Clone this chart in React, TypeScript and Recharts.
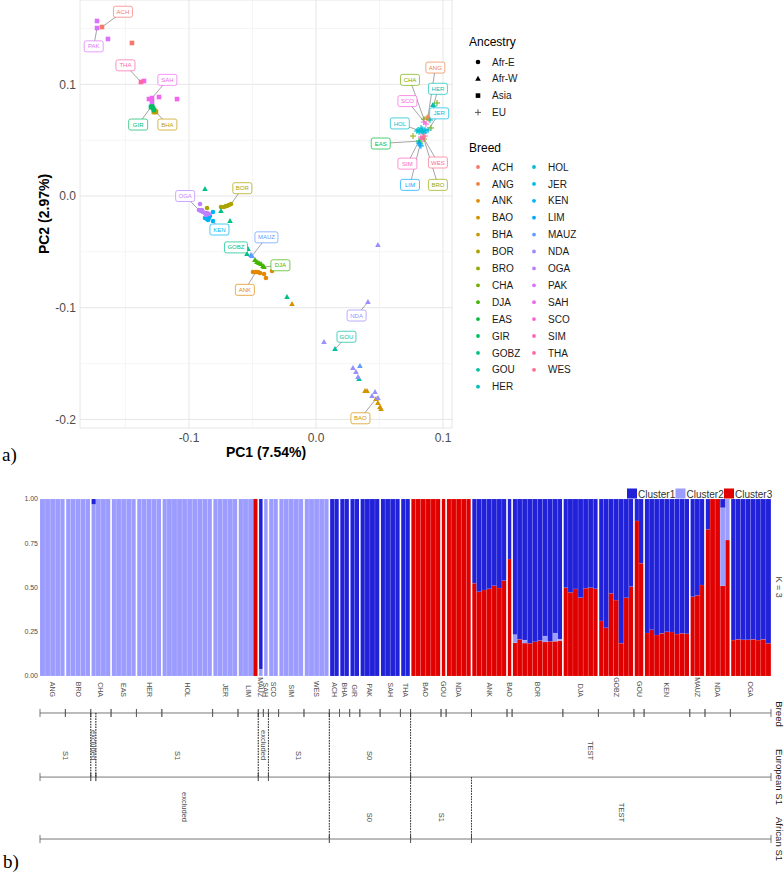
import React from 'react';
import {
  ScatterChart,
  Scatter,
  XAxis,
  YAxis,
  CartesianGrid,
  ReferenceLine,
  BarChart,
  Bar,
  ReferenceArea,
} from 'recharts';

const FONT = '"Liberation Sans", Arial, Helvetica, sans-serif';
const SERIF = '"Liberation Serif", "Times New Roman", serif';

// ---------- a) PCA ----------
const breeds = [
  'ACH', 'ANG', 'ANK', 'BAO', 'BHA', 'BOR', 'BRO', 'CHA', 'DJA', 'EAS', 'GIR', 'GOBZ', 'GOU', 'HER',
  'HOL', 'JER', 'KEN', 'LIM', 'MAUZ', 'NDA', 'OGA', 'PAK', 'SAH', 'SCO', 'SIM', 'THA', 'WES',
];
const ancestries = ['Afr-E', 'Afr-W', 'Asia', 'EU'];
const afrEBreeds = ['ANK', 'BOR', 'KEN', 'OGA'];
const afrWBreeds = ['BAO', 'DJA', 'GOBZ', 'GOU', 'MAUZ', 'NDA'];
const asiaBreeds = ['ACH', 'BHA', 'GIR', 'PAK', 'SAH', 'THA'];

// [breed, PC1, PC2]
const asiaPoints: [string, number, number][] = [
  ['PAK', -0.1724, 0.1567], ['PAK', -0.1724, 0.1504], ['PAK', -0.1638, 0.1406], ['PAK', -0.1291, 0.0842],
  ['ACH', -0.1685, 0.1513], ['ACH', -0.1449, 0.137],
  ['THA', -0.1378, 0.1021],
  ['SAH', -0.1354, 0.103], ['SAH', -0.1315, 0.0868], ['SAH', -0.1291, 0.0877], ['SAH', -0.1236, 0.0886], ['SAH', -0.1094, 0.0868],
  ['GIR', -0.1291, 0.0806], ['GIR', -0.1283, 0.0788], ['GIR', -0.1276, 0.077], ['GIR', -0.1299, 0.0797],
  ['BHA', -0.1268, 0.0761], ['BHA', -0.126, 0.0752], ['BHA', -0.1276, 0.0752],
];
const afrEPoints: [string, number, number][] = [
  ['OGA', -0.0913, -0.0072], ['OGA', -0.0921, -0.0125], ['OGA', -0.0906, -0.0134], ['OGA', -0.089, -0.0143],
  ['OGA', -0.0874, -0.0152], ['OGA', -0.0858, -0.0152], ['OGA', -0.0843, -0.0161], ['OGA', -0.0866, -0.017], ['OGA', -0.0898, -0.0125],
  ['KEN', -0.0866, -0.0188], ['KEN', -0.0858, -0.0206], ['KEN', -0.0843, -0.0197], ['KEN', -0.085, -0.0215],
  ['KEN', -0.0835, -0.0179], ['KEN', -0.0811, -0.0143], ['KEN', -0.0811, -0.0224], ['KEN', -0.0874, -0.0197],
  ['BOR', -0.0858, -0.0107], ['BOR', -0.0748, -0.0098], ['BOR', -0.0724, -0.0098], ['BOR', -0.0709, -0.009],
  ['BOR', -0.0701, -0.009], ['BOR', -0.0685, -0.0081], ['BOR', -0.0669, -0.0072],
  ['ANK', -0.0496, -0.068], ['ANK', -0.0472, -0.068], ['ANK', -0.0457, -0.068], ['ANK', -0.0441, -0.0689],
  ['ANK', -0.0409, -0.0698], ['ANK', -0.0394, -0.0734], ['ANK', -0.0346, -0.0671],
];
const afrWPoints: [string, number, number][] = [
  ['GOBZ', -0.0874, 0.0063], ['GOBZ', -0.0748, -0.0134], ['GOBZ', -0.0677, -0.0224], ['GOBZ', -0.0535, -0.0474],
  ['GOBZ', -0.0543, -0.0519], ['GOBZ', -0.0228, -0.0904],
  ['MAUZ', -0.0512, -0.0528], ['MAUZ', -0.0504, -0.0537], ['MAUZ', 0.0346, -0.1522],
  ['DJA', -0.048, -0.0573], ['DJA', -0.0465, -0.0591], ['DJA', -0.0449, -0.06], ['DJA', -0.0433, -0.0609],
  ['DJA', -0.0417, -0.0627], ['DJA', -0.0409, -0.0636],
  ['BAO', -0.0189, -0.0967], ['BAO', 0.0386, -0.1746], ['BAO', 0.0402, -0.1746], ['BAO', 0.0472, -0.1817],
  ['BAO', 0.0488, -0.1853], ['BAO', 0.0504, -0.1889], ['BAO', 0.0512, -0.1907],
  ['NDA', 0.0488, -0.0439], ['NDA', 0.0409, -0.0949], ['NDA', 0.0063, -0.1307], ['NDA', 0.0291, -0.154],
  ['NDA', 0.0315, -0.1576], ['NDA', 0.0331, -0.162], ['NDA', 0.0465, -0.1755], ['NDA', 0.0441, -0.1791], ['NDA', 0.0488, -0.1808],
  ['GOU', 0.015, -0.137], ['GOU', 0.0339, -0.1638], ['GOU', 0.0921, 0.0815],
];
const euPoints: [string, number, number][] = [
  ['ANG', 0.0882, 0.0707], ['ANG', 0.089, 0.0689], ['ANG', 0.0874, 0.0698],
  ['CHA', 0.0906, 0.0609], ['CHA', 0.0953, 0.0833], ['CHA', 0.085, 0.0689],
  ['HER', 0.0929, 0.0806], ['HER', 0.0835, 0.0582], ['HER', 0.0898, 0.068],
  ['SCO', 0.0866, 0.0645], ['SCO', 0.085, 0.0662],
  ['HOL', 0.0803, 0.0591], ['HOL', 0.0819, 0.0582], ['HOL', 0.0835, 0.06], ['HOL', 0.0811, 0.0573],
  ['HOL', 0.0827, 0.0609], ['HOL', 0.0843, 0.0573], ['HOL', 0.0858, 0.0591], ['HOL', 0.0795, 0.0582],
  ['JER', 0.085, 0.0564], ['JER', 0.0866, 0.0582], ['JER', 0.0882, 0.0591],
  ['EAS', 0.0811, 0.0492], ['EAS', 0.0819, 0.0474],
  ['SIM', 0.0827, 0.0528], ['SIM', 0.0835, 0.051],
  ['WES', 0.0843, 0.0528], ['WES', 0.0858, 0.0537],
  ['LIM', 0.0819, 0.0457], ['LIM', 0.0827, 0.0448], ['LIM', 0.0811, 0.0474],
  ['BRO', 0.0764, 0.0537], ['BRO', 0.085, 0.051],
];

// repelled labels: [breed, label PC1, label PC2, point PC1, point PC2]
const pcaLabels: [string, number, number, number, number][] = [
  ['ACH', -0.152, 0.165, -0.1685, 0.1513],
  ['PAK', -0.175, 0.134, -0.1724, 0.1504],
  ['THA', -0.15, 0.117, -0.1378, 0.1021],
  ['SAH', -0.117, 0.104, -0.1291, 0.0877],
  ['GIR', -0.14, 0.064, -0.1299, 0.0797],
  ['BHA', -0.117, 0.064, -0.126, 0.0752],
  ['OGA', -0.103, 0.0, -0.0921, -0.0125],
  ['BOR', -0.058, 0.007, -0.0669, -0.0072],
  ['KEN', -0.076, -0.03, -0.0811, -0.0224],
  ['GOBZ', -0.063, -0.046, -0.0535, -0.0474],
  ['MAUZ', -0.039, -0.037, -0.0504, -0.0537],
  ['DJA', -0.028, -0.062, -0.0409, -0.0636],
  ['ANK', -0.056, -0.084, -0.0472, -0.068],
  ['NDA', 0.032, -0.107, 0.0409, -0.0949],
  ['GOU', 0.024, -0.126, 0.015, -0.137],
  ['BAO', 0.035, -0.199, 0.0472, -0.1817],
  ['ANG', 0.094, 0.115, 0.0882, 0.0707],
  ['CHA', 0.074, 0.104, 0.085, 0.0689],
  ['HER', 0.096, 0.096, 0.0898, 0.068],
  ['SCO', 0.072, 0.085, 0.0866, 0.0645],
  ['JER', 0.097, 0.074, 0.0882, 0.0591],
  ['HOL', 0.066, 0.065, 0.0819, 0.0582],
  ['EAS', 0.051, 0.047, 0.0811, 0.0492],
  ['SIM', 0.072, 0.029, 0.0827, 0.0528],
  ['WES', 0.096, 0.03, 0.0843, 0.0528],
  ['LIM', 0.074, 0.01, 0.0819, 0.0457],
  ['BRO', 0.096, 0.01, 0.085, 0.051],
];

const pc1Ticks = [-0.1, 0, 0.1];
const pc2Ticks = [-0.2, -0.1, 0, 0.1];
const pc1Minor = [-0.15, -0.05, 0.05];
const pc2Minor = [-0.15, -0.05, 0.05, 0.15];

// ---------- b) ADMIXTURE K=3 ----------
const structGroups = [
  'ANG', 'BRO', 'CHA', 'EAS', 'HER', 'HOL', 'JER', 'LIM', 'MAUZ', 'SAH', 'SCO', 'SIM', 'WES',
  'ACH', 'BHA', 'GIR', 'PAK', 'SAH', 'THA',
  'BAO', 'GOU', 'NDA', 'ANK', 'BAO', 'BOR', 'DJA', 'GOBZ', 'GOU', 'KEN', 'MAUZ', 'NDA', 'OGA',
];
const structSizes = [5, 5, 4, 5, 5, 10, 5, 4, 1, 1, 2, 5, 5, 2, 2, 2, 4, 4, 2, 6, 1, 5, 7, 1, 10, 7, 7, 2, 9, 3, 5, 8];

const cluster1 = [
  0, 0, 0, 0, 0, 0, 0, 0, 0, 0, 0.03, 0, 0, 0, 0, 0, 0, 0, 0, 0, 0, 0, 0, 0,
  0, 0, 0, 0, 0, 0, 0, 0, 0, 0, 0, 0, 0, 0, 0, 0, 0, 0, 0, 0.96, 0, 0, 0, 0, 0, 0, 0, 0, 0, 0, 0, 0, 0,
  1, 1, 1, 1, 1, 1, 1, 1, 1, 1, 1, 1, 1, 1, 1, 1,
  0, 0, 0, 0, 0, 0, 0, 0, 0, 0, 0, 0,
  0.476, 0.524, 0.514, 0.507, 0.49, 0.503, 0.461,
  0.339,
  0.765, 0.793, 0.797, 0.815, 0.806, 0.8, 0.774, 0.804, 0.757, 0.791,
  0.501, 0.527, 0.508, 0.557, 0.504, 0.501, 0.507,
  0.689, 0.727, 0.533, 0.571, 0.815, 0.558, 0.495,
  0.124, 0.363,
  0.757, 0.738, 0.768, 0.759, 0.75, 0.751, 0.763, 0.759, 0.761,
  0.552, 0.544, 0.486,
  0.171, 0, 0, 0.049, 0,
  0.797, 0.793, 0.795, 0.795, 0.793, 0.797, 0.793, 0.815,
];
const cluster2 = [
  1, 1, 1, 1, 1, 1, 1, 1, 1, 1, 0.97, 1, 1, 1, 1, 1, 1, 1, 1, 1, 1, 1, 1, 1,
  1, 1, 1, 1, 1, 1, 1, 1, 1, 1, 1, 1, 1, 1, 1, 1, 1, 1, 0, 0.04, 1, 1, 1, 1, 1, 1, 1, 1, 1, 1, 1, 1, 1,
  0, 0, 0, 0, 0, 0, 0, 0, 0, 0, 0, 0, 0, 0, 0, 0,
  0, 0, 0, 0, 0, 0, 0, 0, 0, 0, 0, 0,
  0, 0, 0, 0, 0, 0, 0,
  0,
  0.047, 0, 0.017, 0, 0, 0, 0.034, 0, 0.047, 0.009,
  0, 0, 0, 0, 0, 0, 0,
  0, 0, 0, 0, 0, 0, 0,
  0, 0,
  0, 0, 0, 0, 0, 0, 0, 0, 0,
  0, 0, 0,
  0, 0, 0, 0.441, 0.232,
  0, 0, 0, 0, 0, 0, 0, 0,
];
const cluster3 = [
  0, 0, 0, 0, 0, 0, 0, 0, 0, 0, 0, 0, 0, 0, 0, 0, 0, 0, 0, 0, 0, 0, 0, 0,
  0, 0, 0, 0, 0, 0, 0, 0, 0, 0, 0, 0, 0, 0, 0, 0, 0, 0, 1, 0, 0, 0, 0, 0, 0, 0, 0, 0, 0, 0, 0, 0, 0,
  0, 0, 0, 0, 0, 0, 0, 0, 0, 0, 0, 0, 0, 0, 0, 0,
  1, 1, 1, 1, 1, 1, 1, 1, 1, 1, 1, 1,
  0.524, 0.476, 0.486, 0.493, 0.51, 0.497, 0.539,
  0.661,
  0.188, 0.207, 0.186, 0.185, 0.194, 0.2, 0.192, 0.196, 0.196, 0.2,
  0.499, 0.473, 0.492, 0.443, 0.496, 0.499, 0.493,
  0.311, 0.273, 0.467, 0.429, 0.185, 0.442, 0.505,
  0.876, 0.637,
  0.243, 0.262, 0.232, 0.241, 0.25, 0.249, 0.237, 0.241, 0.239,
  0.448, 0.456, 0.514,
  0.829, 1, 1, 0.51, 0.768,
  0.203, 0.207, 0.205, 0.205, 0.207, 0.203, 0.207, 0.185,
];
const clusterNames = ['Cluster1', 'Cluster2', 'Cluster3'];
const clusterColors = ['#2121D9', '#9C9CFF', '#E00000'];
const structTicks = [0, 0.25, 0.5, 0.75, 1];

const euroS1Labels = ['S1', 'excluded', 'S1', 'excluded', 'S1', 'S0', 'TEST'];
const euroS1Sizes = [10, 1, 32, 2, 12, 16, 71];
const afrS1Labels = ['excluded', 'S0', 'S1', 'TEST'];
const afrS1Sizes = [57, 16, 12, 59];

// ---------- helpers ----------
function hueColor(h: number): string {
  const L = 65, C = 100;
  const rad = (h * Math.PI) / 180;
  const U = C * Math.cos(rad);
  const V = C * Math.sin(rad);
  const Xn = 95.047, Yn = 100, Zn = 108.883;
  const un = (4 * Xn) / (Xn + 15 * Yn + 3 * Zn);
  const vn = (9 * Yn) / (Xn + 15 * Yn + 3 * Zn);
  const Y = Yn * Math.pow((L + 16) / 116, 3);
  const u = U / (13 * L) + un;
  const v = V / (13 * L) + vn;
  const X = (9 * Y * u) / (4 * v);
  const Z = (3 * Y) / v - X / 3 - 5 * Y;
  const x = X / 100, y = Y / 100, z = Z / 100;
  const lin = [
    3.2404542 * x - 1.5371385 * y - 0.4985314 * z,
    -0.969266 * x + 1.8760108 * y + 0.041556 * z,
    0.0556434 * x - 0.2040259 * y + 1.0572252 * z,
  ];
  const gam = (t: number) => {
    const g = t <= 0.0031308 ? 12.92 * t : 1.055 * Math.pow(t, 1 / 2.4) - 0.055;
    return Math.round(Math.max(0, Math.min(1, g)) * 255);
  };
  return '#' + lin.map(gam).map((n) => n.toString(16).padStart(2, '0')).join('');
}

const breedColor: Record<string, string> = {};
breeds.forEach((b, i) => {
  breedColor[b] = hueColor(15 + (i * 360) / breeds.length);
});

const ancestryOf = (b: string) =>
  afrEBreeds.includes(b) ? 'Afr-E' : afrWBreeds.includes(b) ? 'Afr-W' : asiaBreeds.includes(b) ? 'Asia' : 'EU';

const allPoints = [...asiaPoints, ...afrEPoints, ...afrWPoints, ...euPoints];
const pointsOf = (b: string) => allPoints.filter((p) => p[0] === b).map((p) => ({ x: p[1], y: p[2] }));

function Marker({ cx, cy, kind, color }: { cx: number; cy: number; kind: string; color: string }) {
  if (kind === 'Afr-E') return <circle cx={cx} cy={cy} r={2.3} fill={color} />;
  if (kind === 'Afr-W')
    return <path d={`M${cx},${cy - 3}L${cx + 2.8},${cy + 2}L${cx - 2.8},${cy + 2}Z`} fill={color} />;
  if (kind === 'Asia') return <rect x={cx - 2.3} y={cy - 2.3} width={4.6} height={4.6} fill={color} />;
  return <path d={`M${cx - 3},${cy}H${cx + 3}M${cx},${cy - 3}V${cy + 3}`} stroke={color} strokeWidth={1} fill="none" />;
}

function LabelBox(p: any) {
  const { cx, cy, payload } = p;
  const name: string = payload.breed;
  const color = breedColor[name];
  const w = 7 + name.length * 4;
  return (
    <g>
      <rect x={cx - w / 2} y={cy - 5.5} width={w} height={11} rx={2} fill="#fff" stroke={color} strokeWidth={0.7} />
      <text x={cx} y={cy + 2.1} textAnchor="middle" fontSize={6} fill={color} fontFamily={FONT}>
        {name}
      </text>
    </g>
  );
}

// individuals for the structure plot
const individuals: { id: string; c1: number; c2: number; c3: number }[] = [];
const groupSpans: { name: string; start: number; end: number }[] = [];
{
  let k = 0;
  structGroups.forEach((g, gi) => {
    const start = k;
    for (let j = 0; j < structSizes[gi]; j++) {
      individuals.push({ id: `${g}-${gi}-${j}`, c1: cluster1[k], c2: cluster2[k], c3: cluster3[k] });
      k++;
    }
    groupSpans.push({ name: g, start, end: k - 1 });
  });
}
const spansOf = (labels: string[], sizes: number[]) => {
  let k = 0;
  return labels.map((name, i) => {
    const s = { name, start: k, end: k + sizes[i] - 1 };
    k += sizes[i];
    return s;
  });
};
const euroSpans = spansOf(euroS1Labels, euroS1Sizes);
const afrSpans = spansOf(afrS1Labels, afrS1Sizes);

const AXIS = '#555';
const BREED_ROW = -0.209;
const EURO_ROW = -0.571;
const AFR_ROW = -0.921;

function BreedCell(p: any) {
  const { x, y, width, height, name } = p;
  const base = y + height;
  return (
    <g>
      <line x1={x} x2={x + width} y1={base} y2={base} stroke={AXIS} strokeWidth={0.8} />
      <line x1={x} x2={x} y1={base - 4} y2={base + 4} stroke={AXIS} strokeWidth={0.8} />
      <line x1={x + width} x2={x + width} y1={base - 4} y2={base + 4} stroke={AXIS} strokeWidth={0.8} />
      <text
        transform={`translate(${x + width / 2},${base - 16}) rotate(90)`}
        textAnchor="end"
        dominantBaseline="central"
        fontSize={7}
        fill="#4d4d4d"
        fontFamily={FONT}
      >
        {name}
      </text>
    </g>
  );
}

function SegCell(p: any) {
  const { x, y, width, height, name, first, last } = p;
  const base = y + height;
  return (
    <g>
      <line x1={x} x2={x + width} y1={base} y2={base} stroke={AXIS} strokeWidth={0.8} />
      <line x1={x} x2={x} y1={base - 4} y2={base + 4} stroke={AXIS} strokeWidth={0.8} />
      <line x1={x + width} x2={x + width} y1={base - 4} y2={base + 4} stroke={AXIS} strokeWidth={0.8} />
      {!first && <line x1={x} x2={x} y1={y} y2={base} stroke="#333" strokeWidth={0.8} strokeDasharray="1.5 1.2" />}
      {!last && (
        <line x1={x + width} x2={x + width} y1={y} y2={base} stroke="#333" strokeWidth={0.8} strokeDasharray="1.5 1.2" />
      )}
      <text
        transform={`translate(${x + width / 2},${base - 17}) rotate(90)`}
        textAnchor="end"
        dominantBaseline="central"
        fontSize={7.5}
        fill="#4d4d4d"
        fontFamily={FONT}
      >
        {name}
      </text>
    </g>
  );
}

function Separator(p: any) {
  const { x, y, height } = p;
  return <line x1={x} x2={x} y1={y} y2={y + height} stroke="#fff" strokeWidth={1.6} />;
}

const rowTexts: [string, number][] = [
  ['Breed', 714],
  ['European S1', 777],
  ['African S1', 839],
];

export default function App() {
  const col1 = breeds.slice(0, 14);
  const col2 = breeds.slice(14);
  return (
    <div style={{ position: 'absolute', left: 0, top: 0, width: 784, height: 877, background: '#fff', fontFamily: FONT }}>
      {/* a) PCA */}
      <div style={{ position: 'absolute', left: 0, top: 0 }}>
        <ScatterChart width={460} height={470} margin={{ top: 0, right: 8, bottom: 0, left: 0 }}>
          {pc1Minor.map((v) => (
            <ReferenceLine key={'vx' + v} x={v} stroke="#f1f1f1" strokeWidth={0.7} zIndex={-90} />
          ))}
          {pc2Minor.map((v) => (
            <ReferenceLine key={'vy' + v} y={v} stroke="#f1f1f1" strokeWidth={0.7} zIndex={-90} />
          ))}
          <CartesianGrid stroke="#e6e6e6" strokeWidth={1} />
          <XAxis
            type="number"
            dataKey="x"
            domain={[-0.1858, 0.1071]}
            ticks={pc1Ticks}
            allowDataOverflow
            tickFormatter={(v: number) => v.toFixed(1)}
            height={42}
            axisLine={false}
            tickLine={false}
            tickSize={0}
            tickMargin={5}
            tick={{ fontSize: 12, fill: '#4d4d4d' }}
          />
          <YAxis
            type="number"
            dataKey="y"
            domain={[-0.2077, 0.1755]}
            ticks={pc2Ticks}
            allowDataOverflow
            tickFormatter={(v: number) => v.toFixed(1)}
            width={80}
            axisLine={false}
            tickLine={false}
            tickSize={0}
            tickMargin={4}
            tick={{ fontSize: 12, fill: '#4d4d4d' }}
          />
          {pcaLabels.map(([b, lx, ly, ax, ay]) => (
            <Scatter
              key={'seg' + b}
              data={[{ x: lx, y: ly }, { x: ax, y: ay }]}
              line={{ stroke: '#666', strokeWidth: 0.6 }}
              shape={() => <g />}
              isAnimationActive={false}
            />
          ))}
          {breeds.map((b) => (
            <Scatter
              key={b}
              data={pointsOf(b)}
              shape={(p: any) => <Marker cx={p.cx} cy={p.cy} kind={ancestryOf(b)} color={breedColor[b]} />}
              isAnimationActive={false}
            />
          ))}
          <Scatter
            data={pcaLabels.map(([b, lx, ly]) => ({ x: lx, y: ly, breed: b }))}
            shape={(p: any) => <LabelBox {...p} />}
            isAnimationActive={false}
          />
        </ScatterChart>
      </div>

      {/* b) structure */}
      <div style={{ position: 'absolute', left: 0, top: 470 }}>
        <BarChart
          width={784}
          height={407}
          data={individuals}
          margin={{ top: 29, right: 13, bottom: 201, left: 0 }}
          barCategoryGap={0}
          barGap={0}
        >
          <XAxis dataKey="id" hide />
          <YAxis
            type="number"
            domain={[0, 1]}
            ticks={structTicks}
            allowDataOverflow
            tickFormatter={(v: number) => v.toFixed(2)}
            width={40}
            axisLine={false}
            tickLine={false}
            tickSize={0}
            tickMargin={2}
            tick={{ fontSize: 7, fill: '#4d4d4d' }}
          />
          <Bar dataKey="c3" stackId="k" fill={clusterColors[2]} stroke="#fff" strokeOpacity={0.22} strokeWidth={0.4} isAnimationActive={false} />
          <Bar dataKey="c2" stackId="k" fill={clusterColors[1]} stroke="#fff" strokeOpacity={0.22} strokeWidth={0.4} isAnimationActive={false} />
          <Bar dataKey="c1" stackId="k" fill={clusterColors[0]} stroke="#fff" strokeOpacity={0.22} strokeWidth={0.4} isAnimationActive={false} />
          {groupSpans.slice(1).map((s, i) => (
            <ReferenceArea
              key={'sep' + i}
              x1={individuals[s.start].id}
              x2={individuals[s.start].id}
              y1={0}
              y2={1}
              ifOverflow="visible"
              zIndex={1500}
              shape={(p: any) => <Separator {...p} />}
            />
          ))}
          {groupSpans.map((s, i) => (
            <ReferenceArea
              key={'br' + i}
              x1={individuals[s.start].id}
              x2={individuals[s.end].id}
              y1={BREED_ROW}
              y2={0}
              ifOverflow="visible"
              zIndex={1500}
              shape={(p: any) => <BreedCell {...p} name={s.name} />}
            />
          ))}
          {euroSpans.map((s, i) => (
            <ReferenceArea
              key={'eu' + i}
              x1={individuals[s.start].id}
              x2={individuals[s.end].id}
              y1={EURO_ROW}
              y2={BREED_ROW}
              ifOverflow="visible"
              zIndex={1500}
              shape={(p: any) => (
                <SegCell {...p} name={s.name} first={i === 0} last={i === euroSpans.length - 1} />
              )}
            />
          ))}
          {afrSpans.map((s, i) => (
            <ReferenceArea
              key={'af' + i}
              x1={individuals[s.start].id}
              x2={individuals[s.end].id}
              y1={AFR_ROW}
              y2={EURO_ROW}
              ifOverflow="visible"
              zIndex={1500}
              shape={(p: any) => (
                <SegCell {...p} name={s.name} first={i === 0} last={i === afrSpans.length - 1} />
              )}
            />
          ))}
        </BarChart>
      </div>

      {/* texts and legends */}
      <svg width={784} height={877} style={{ position: 'absolute', left: 0, top: 0, pointerEvents: 'none' }}>
        <text x={2} y={461} fontFamily={SERIF} fontSize={19} fill="#000">a)</text>
        <text x={3} y={868} fontFamily={SERIF} fontSize={19} fill="#000">b)</text>
        <text x={266} y={457} textAnchor="middle" fontWeight="bold" fontSize={14} fill="#000" fontFamily={FONT}>
          PC1 (7.54%)
        </text>
        <text
          transform="translate(49,214) rotate(-90)"
          textAnchor="middle"
          fontWeight="bold"
          fontSize={14}
          fill="#000"
          fontFamily={FONT}
        >
          PC2 (2.97%)
        </text>

        <text x={469} y={46} fontSize={12} fill="#000" fontFamily={FONT}>Ancestry</text>
        {ancestries.map((a, i) => {
          const cy = 62 + i * 16.8;
          return (
            <g key={a}>
              <Marker cx={478} cy={cy} kind={a} color={a === 'EU' ? '#555' : '#000'} />
              <text x={492} y={cy + 3.6} fontSize={10} fill="#1a1a1a" fontFamily={FONT}>{a}</text>
            </g>
          );
        })}
        <text x={469} y={152} fontSize={12} fill="#000" fontFamily={FONT}>Breed</text>
        {[col1, col2].map((col, ci) =>
          col.map((b, i) => {
            const cy = 167 + i * 16.9;
            const sx = ci === 0 ? 478 : 534;
            return (
              <g key={b}>
                <circle cx={sx} cy={cy} r={1.9} fill={breedColor[b]} />
                <text x={sx + 14} y={cy + 3.6} fontSize={10} fill="#1a1a1a" fontFamily={FONT}>{b}</text>
              </g>
            );
          }),
        )}

        {clusterNames.map((c, i) => {
          const x0 = 627 + i * 48.5;
          return (
            <g key={c}>
              <rect x={x0} y={488.5} width={10} height={10} fill={clusterColors[i]} />
              <text x={x0 + 11} y={497.5} fontSize={10} fill="#333" fontFamily={FONT}>{c}</text>
            </g>
          );
        })}
        <text
          transform="translate(779,587) rotate(90)"
          textAnchor="middle"
          dominantBaseline="central"
          fontSize={9}
          fill="#4d4d4d"
          fontFamily={FONT}
        >
          K = 3
        </text>
        {rowTexts.map(([t, cy]) => (
          <text
            key={t}
            transform={`translate(779,${cy}) rotate(90)`}
            textAnchor="middle"
            dominantBaseline="central"
            fontSize={9.6}
            fill="#1a1a1a"
            fontFamily={FONT}
          >
            {t}
          </text>
        ))}
      </svg>
    </div>
  );
}
